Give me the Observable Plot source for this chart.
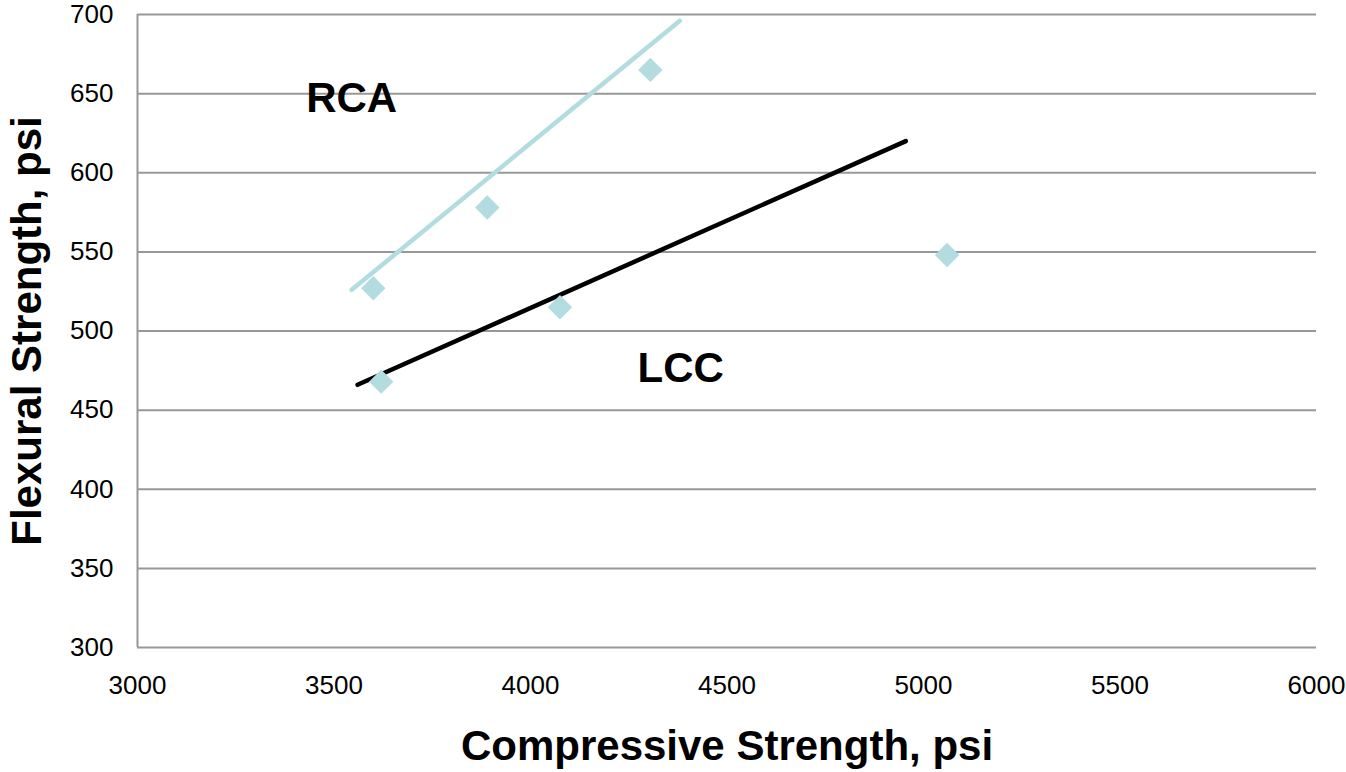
<!DOCTYPE html>
<html><head><meta charset="utf-8">
<script src="https://cdn.jsdelivr.net/npm/d3@7"></script>
<script src="https://cdn.jsdelivr.net/npm/@observablehq/plot@0.6"></script>
<style>body{margin:0;background:#fff;font-family:"Liberation Sans",Arial,sans-serif}</style>
</head><body><div id="chart"></div>
<script>
// Data points (all drawn as light-blue diamonds)
const compressive = [3600, 3890, 4305, 3620, 4075, 5060];
const flexural = [527, 578, 665, 468, 515, 548];
// Trend lines (endpoints)
const rcaLineX = [3545, 4380];
const rcaLineY = [526, 696];
const lccLineX = [3560, 4955];
const lccLineY = [466, 620];
// Annotations
const labelText = ["RCA", "LCC"];
const labelX = [3545, 4382];
const labelY = [647, 476];
const yTicks = [300, 350, 400, 450, 500, 550, 600, 650, 700];
const xTicks = [3000, 3500, 4000, 4500, 5000, 5500, 6000];

const pts = compressive.map((x, i) => ({x, y: flexural[i]}));
const rca = rcaLineX.map((x, i) => ({x, y: rcaLineY[i]}));
const lcc = lccLineX.map((x, i) => ({x, y: lccLineY[i]}));
const labels = labelText.map((t, i) => ({t, x: labelX[i], y: labelY[i]}));

const chart = Plot.plot({
  width: 1346, height: 772,
  marginLeft: 137, marginRight: 30, marginTop: 14, marginBottom: 125,
  style: {fontFamily: '"Liberation Sans", Arial, sans-serif', fontSize: "26px", color: "#000"},
  x: {domain: [3000, 6000], ticks: xTicks, tickSize: 0, tickPadding: 28, tickFormat: d => String(d),
      label: "Compressive Strength, psi", labelAnchor: "center", labelArrow: "none", labelOffset: 112},
  y: {domain: [300, 700], ticks: yTicks, tickSize: 0, tickPadding: 24, tickFormat: d => String(d),
      label: "Flexural Strength, psi", labelAnchor: "center", labelArrow: "none", labelOffset: 126},
  marks: [
    Plot.ruleY(yTicks, {stroke: "#989898", strokeWidth: 2}),
    Plot.ruleX([3000], {stroke: "#989898", strokeWidth: 2}),
    Plot.line(rca, {x: "x", y: "y", stroke: "#b2dcdf", strokeWidth: 4.5}),
    Plot.line(lcc, {x: "x", y: "y", stroke: "#000", strokeWidth: 4.5}),
    Plot.dot(pts, {x: "x", y: "y", symbol: "diamond2", r: 11, fill: "#b2dcdf", stroke: "none"}),
    Plot.text(labels, {x: "x", y: "y", text: "t", fontSize: 42, fontWeight: "bold", fill: "#000"})
  ]
});
d3.select(chart).selectAll('[aria-label="x-axis tick label"] text, [aria-label="y-axis tick label"] text')
  .style("font-size", "26px");
d3.select(chart).selectAll('[aria-label="x-axis label"] text, [aria-label="y-axis label"] text')
  .style("font-size", "42px").style("font-weight", "bold");
document.getElementById("chart").append(chart);
</script></body></html>
